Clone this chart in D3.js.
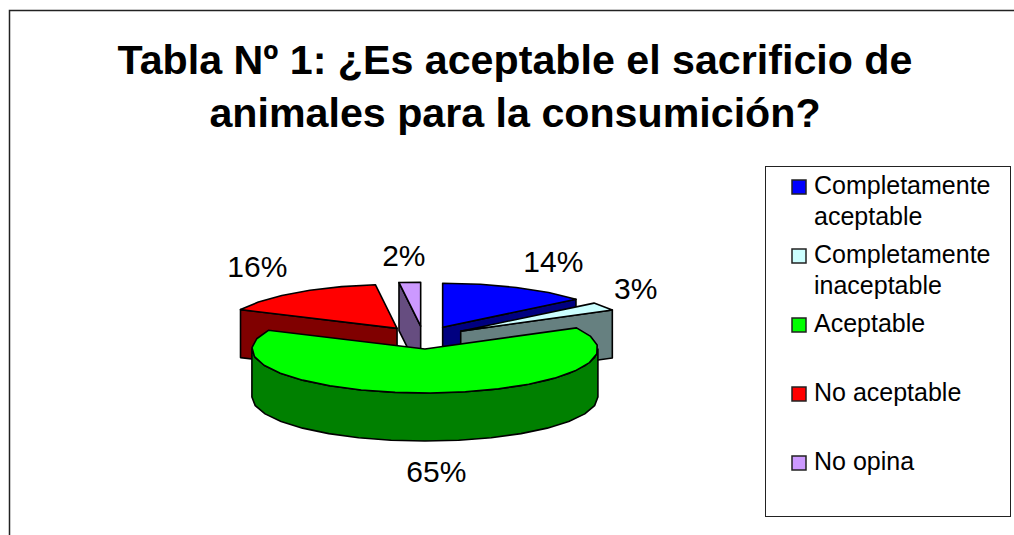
<!DOCTYPE html>
<meta charset="utf-8">
<style>
    body { margin: 0; background: #fff; }
    svg { display: block; }
    text { font-family: "Liberation Sans", Arial, sans-serif; fill: #000; }
    .title { font-size: 41.2px; font-weight: bold; text-anchor: middle; }
    .pct { font-size: 30px; text-anchor: middle; }
    .legend-label { font-size: 25px; }
    .edge { stroke: #000; stroke-width: 1.6px; stroke-linejoin: round; }
</style>
<body>
<script src="https://d3js.org/d3.v7.min.js"></script>
<script>

var categories = ["Completamente aceptable", "Completamente inaceptable", "Aceptable", "No aceptable", "No opina"];
var values = [14, 3, 65, 16, 2];
var titleLines = ["Tabla Nº 1: ¿Es aceptable el sacrificio de", "animales para la consumición?"];
var legendLines = [["Completamente", "aceptable"], ["Completamente", "inaceptable"], ["Aceptable"], ["No aceptable"], ["No opina"]];

var topColors = ["#0000ff", "#ccffff", "#00ff00", "#ff0000", "#cc99ff"];
var sideColors = ["#000080", "#668080", "#008000", "#800000", "#664d80"];

var width = 1014, height = 535;

var svg = d3.select("body").append("svg")
    .attr("width", width).attr("height", height);

// frame runs off the right and bottom of the picture
svg.append("path")
    .attr("d", "M9.5," + height + "V10.5H" + width)
    .attr("fill", "none").attr("stroke", "#222").attr("stroke-width", 1.5);

svg.selectAll(".title")
    .data(titleLines)
    .enter().append("text")
    .attr("class", "title")
    .attr("x", 515)
    .attr("y", function(d, i) { return 74 + i * 53; })
    .text(function(d) { return d; });

// Pie geometry: tilted ellipse with every slice pulled away from the centre
var cx = 423.5, cy = 337.6, rx = 173, ry = 44, depth = 48, explode = 45;

var arcs = d3.pie().sort(null).value(function(d) { return d; })(values);

var line = d3.line();

function apex(a) {
    var mid = (a.startAngle + a.endAngle) / 2;
    return [cx + explode * Math.sin(mid), cy - explode * (ry / rx) * Math.cos(mid)];
}

function rim(c, t, drop) {
    return [c[0] + rx * Math.sin(t), c[1] - ry * Math.cos(t) + (drop || 0)];
}

// the outline is chunky in the original, so step around the arc
function arcPoints(a0, a1, c, drop) {
    var n = Math.max(1, Math.round((a1 - a0) / 0.2)), pts = [];
    for (var i = 0; i <= n; i++) pts.push(rim(c, a0 + (a1 - a0) * i / n, drop));
    return pts;
}

function radialWall(c, t) {
    var p = rim(c, t);
    return line([c, p, [p[0], p[1] + depth], [c[0], c[1] + depth]]) + "Z";
}

function outerWall(c, a0, a1) {
    return line(arcPoints(a0, a1, c, 0).concat(arcPoints(a0, a1, c, depth).reverse())) + "Z";
}

function topFace(a, c) {
    return line([c].concat(arcPoints(a.startAngle, a.endAngle, c, 0))) + "Z";
}

// back to front: which walls face the viewer depends on the slice
var drawOrder = [4, 3, 0, 1, 2];
var pie = svg.append("g");

drawOrder.forEach(function(i) {
    var a = arcs[i], c = apex(a), walls = [];
    if (a.startAngle > Math.PI) walls.push(radialWall(c, a.startAngle));
    if (a.endAngle < Math.PI) walls.push(radialWall(c, a.endAngle));
    var low0 = Math.max(a.startAngle, Math.PI / 2), low1 = Math.min(a.endAngle, Math.PI * 1.5);
    if (low1 > low0) walls.push(outerWall(c, low0, low1));
    walls.forEach(function(w) {
        pie.append("path").attr("class", "edge").attr("d", w).attr("fill", sideColors[i]);
    });
    pie.append("path").attr("class", "edge").attr("d", topFace(a, c)).attr("fill", topColors[i]);
});

// nudges from the slice's outer edge to where each percentage sits
var labelNudge = [[37, -26], [32, -18], [6, 78], [-38, -26], [-6, -27]];

svg.selectAll(".pct")
    .data(arcs)
    .enter().append("text")
    .attr("class", "pct")
    .attr("x", function(d, i) { return rim(apex(d), (d.startAngle + d.endAngle) / 2)[0] + labelNudge[i][0]; })
    .attr("y", function(d, i) { return rim(apex(d), (d.startAngle + d.endAngle) / 2)[1] + labelNudge[i][1]; })
    .attr("dy", "0.35em")
    .text(function(d) { return d.value + "%"; });

// Legend
svg.append("rect")
    .attr("x", 765.5).attr("y", 166.5).attr("width", 245).attr("height", 350)
    .attr("fill", "#fff").attr("stroke", "#222").attr("stroke-width", 1);

var legendY = d3.scalePoint().domain(categories).range([187, 463]);

var entry = svg.selectAll(".entry")
    .data(categories)
    .enter().append("g")
    .attr("class", "entry")
    .attr("transform", function(d) { return "translate(792," + legendY(d) + ")"; });

entry.append("rect")
    .attr("y", -7).attr("width", 14).attr("height", 14)
    .attr("fill", function(d, i) { return topColors[i]; })
    .attr("stroke", "#222").attr("stroke-width", 1.5);

entry.append("text")
    .attr("class", "legend-label")
    .attr("x", 22)
    .attr("y", 7)
    .each(function(d, i) {
        d3.select(this).selectAll("tspan")
            .data(legendLines[i])
            .enter().append("tspan")
            .attr("x", 22)
            .attr("dy", function(l, j) { return j ? 31 : 0; })
            .text(function(l) { return l; });
    });

</script>
</body>
